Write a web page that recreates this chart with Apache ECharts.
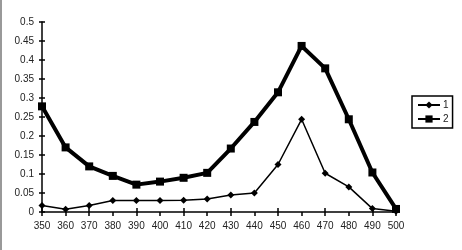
<!DOCTYPE html>
<html><head><meta charset="utf-8">
<script src="https://cdn.jsdelivr.net/npm/echarts@6/dist/echarts.min.js"></script>
<style>html,body{margin:0;padding:0;background:#fff}#c{width:462px;height:250px;box-sizing:border-box;border-left:2px solid #999}</style>
</head><body><div id="c"></div>
<script>
const categories = ['350','360','370','380','390','400','410','420','430','440','450','460','470','480','490','500'];
const series1 = [0.017,0.007,0.017,0.030,0.030,0.030,0.031,0.034,0.045,0.050,0.125,0.244,0.102,0.066,0.009,0.002];
const series2 = [0.278,0.170,0.120,0.095,0.072,0.080,0.090,0.103,0.167,0.237,0.315,0.437,0.378,0.244,0.104,0.008];
const yTicks = [0,0.05,0.1,0.15,0.2,0.25,0.3,0.35,0.4,0.45,0.5];

const chart = echarts.init(document.getElementById('c'));
const lbl = {color:'#222', fontSize:10, fontFamily:'Liberation Sans, Arial, sans-serif'};
const axLine = {show:true, lineStyle:{color:'#000', width:1.5}};
chart.setOption({
  animation:false,
  grid:{left:40, right:66, top:22, bottom:38},
  legend:{
    orient:'vertical', left:410, top:96, data:['1','2'],
    borderColor:'#000', borderWidth:1.5, padding:[4,4,4,5], itemGap:4,
    itemWidth:22, itemHeight:9,
    textStyle:{color:'#222', fontSize:10, padding:[0,0,0,-2], fontFamily:'Liberation Sans, Arial, sans-serif'}
  },
  xAxis:[
    {type:'category', data:categories, boundaryGap:false, axisLine:axLine,
     axisTick:{show:true, length:4, lineStyle:{color:'#000', width:1.5}},
     axisLabel:Object.assign({margin:9, interval:0}, lbl), splitLine:{show:false}},
    {type:'category', data:categories, boundaryGap:false, position:'bottom', axisLine:{show:false},
     axisTick:{show:true, inside:true, length:4, lineStyle:{color:'#000', width:1.5}},
     axisLabel:{show:false}, splitLine:{show:false}}
  ],
  yAxis:[
    {type:'value', min:0, max:0.5, interval:0.05, axisLine:axLine,
     axisTick:{show:true, length:3, lineStyle:{color:'#000', width:1.5}},
     axisLabel:Object.assign({margin:8, formatter:v=>String(+v.toFixed(2))}, lbl), splitLine:{show:false}},
    {type:'value', min:0, max:0.5, interval:0.05, position:'left', axisLine:{show:false},
     axisTick:{show:true, inside:true, length:3, lineStyle:{color:'#000', width:1.5}},
     axisLabel:{show:false}, splitLine:{show:false}}
  ],
  series:[
    {name:'1', type:'line', data:series1, symbol:'diamond', symbolSize:7, showAllSymbol:true,
     lineStyle:{color:'#000', width:1.5}, itemStyle:{color:'#000'}},
    {name:'2', type:'line', data:series2, symbol:'rect', symbolSize:8, showAllSymbol:true,
     lineStyle:{color:'#000', width:4}, itemStyle:{color:'#000'}}
  ]
});
</script></body></html>
